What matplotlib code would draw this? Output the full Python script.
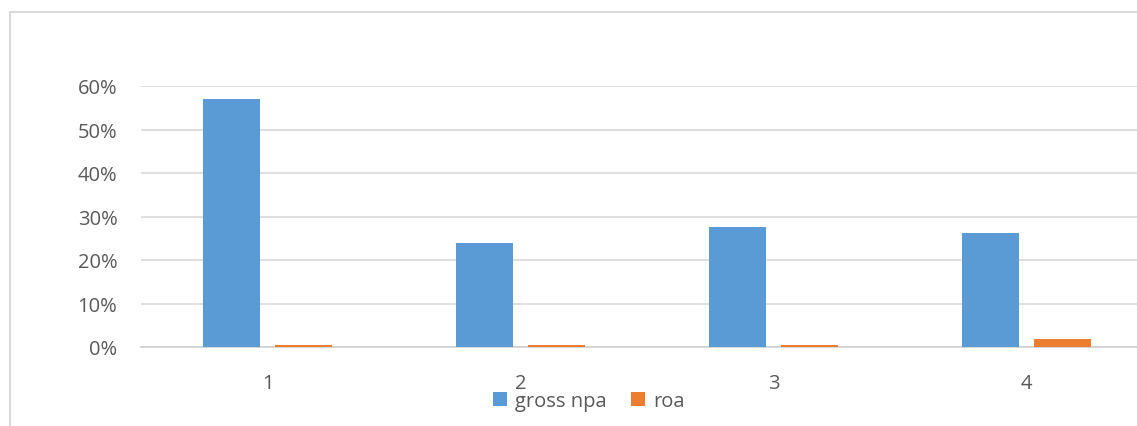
import numpy as np
import matplotlib.pyplot as plt
from matplotlib.patches import Rectangle
from matplotlib.ticker import PercentFormatter

# Data: gross NPA and ROA for four banks
categories = ['1', '2', '3', '4']
gross_npa = [0.570, 0.239, 0.276, 0.262]
roa = [0.004, 0.004, 0.004, 0.019]

plt.rcParams['font.family'] = ['Open Sans', 'DejaVu Sans']

W, H = 1137, 427
fig = plt.figure(figsize=(W / 100, H / 100), dpi=100)

# light chart-area frame (runs off the right and bottom edges)
fig.patches.append(Rectangle((10 / W, -0.1), 1.2, 1 - 13 / H + 0.1,
                             transform=fig.transFigure, fill=False,
                             edgecolor='#d9d9d9', linewidth=1.5))

# plot area: 0% at y=348 px, 60% at y=87 px, x from 141 to 1153 px
ax = fig.add_axes([141 / W, (H - 348) / H, (1153 - 141) / W, 261 / H])

x = np.arange(len(categories))
width = 0.225
offset = 0.142
ax.bar(x - offset, gross_npa, width, color='#5B9BD5', label='gross npa', zorder=3)
ax.bar(x + offset, roa, width, color='#ED7D31', label='roa', zorder=3)

ax.set_xlim(-0.5, 3.5)
ax.set_ylim(0, 0.6)
ax.set_yticks(np.arange(0, 0.61, 0.1))
ax.yaxis.set_major_formatter(PercentFormatter(1.0, decimals=0))
ax.set_xticks(x)
ax.set_xticklabels(categories)

ax.grid(axis='y', color='#d9d9d9', linewidth=1.2, zorder=0)
for side in ['top', 'right', 'left']:
    ax.spines[side].set_visible(False)
ax.spines['bottom'].set_color('#d0d0d0')
ax.spines['bottom'].set_linewidth(1.2)
ax.tick_params(axis='both', length=0, labelsize=14.5, labelcolor='#595959')
ax.tick_params(axis='y', pad=17)
ax.tick_params(axis='x', pad=19)

fig.legend(loc='center', bbox_to_anchor=(589 / W, 1 - 402 / H), ncol=2,
           frameon=False, fontsize=14.5, labelcolor='#595959',
           handlelength=0.7, handleheight=0.7, handletextpad=0.4,
           columnspacing=1.2)

fig.savefig('out.png', dpi=100)
